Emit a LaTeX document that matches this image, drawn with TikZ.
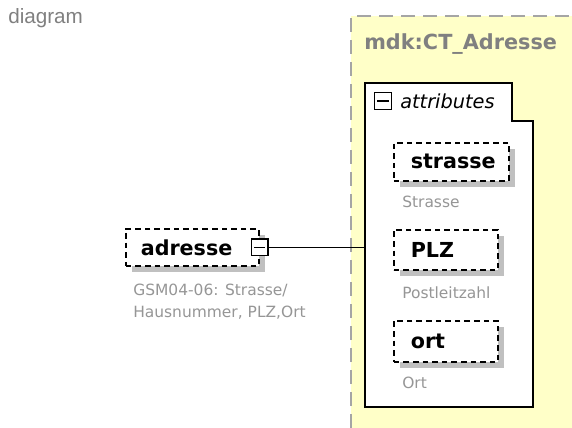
\documentclass[tikz,border=0pt]{standalone}
\usepackage{fontspec}
\setmainfont{DejaVu Sans}
\newfontfamily\arialfont{Liberation Sans}
\usetikzlibrary{shadows}
\definecolor{ylw}{RGB}{255,255,200}
\definecolor{txtgray}{RGB}{128,128,128}
\definecolor{annogray}{RGB}{150,150,150}
\definecolor{shadowgray}{RGB}{192,192,192}
\definecolor{bordergray}{RGB}{165,165,165}
\tikzset{
  elem/.style={draw=black, line width=1.2pt, dash pattern=on 4.2pt off 3pt,
    fill=white, anchor=north west, inner xsep=12.75pt, inner ysep=0pt, align=left,
    font=\bfseries\fontsize{15.5}{18}\selectfont,
    drop shadow={shadow xshift=4.5pt, shadow yshift=-4.5pt, fill=shadowgray, opacity=1}},
  anno/.style={anchor=north west, inner sep=0pt, text=annogray, align=left,
    font=\fontsize{11.6}{15}\selectfont},
  expander/.style={draw=black, line width=1pt, fill=white, minimum size=12.5pt, inner sep=0pt},
  conn/.style={draw=black, line width=1pt}
}
\begin{document}
\begin{tikzpicture}[x=0.75pt,y=-0.75pt]
\useasboundingbox (0,0) rectangle (572,428);
\fill[white] (0,0) rectangle (572,428);
\node[anchor=west, inner sep=0pt, text=txtgray, font=\arialfont\fontsize{15.5}{18}\selectfont] (diaglabel) at (8,18) {diagram};
% complex type region
\fill[ylw] (351,16) rectangle (572,428);
\draw[bordergray, line width=1.5pt, dash pattern=on 10.5pt off 6pt] (351,428) -- (351,16) -- (572,16);
\node[anchor=west, inner sep=0pt, text=txtgray, font=\bfseries\fontsize{15.6}{18}\selectfont] (ctname) at (364,44) {mdk:CT\_Adresse};
% attributes group
\draw[black, line width=1.3pt, fill=white] (365,83) -- (512,83) -- (512,121) -- (533,121) -- (533,407) -- (365,407) -- cycle;
\node[expander] (attrexp) at (383,101) {};
\draw[black, line width=1pt] ([xshift=2.6pt]attrexp.west) -- ([xshift=-2.6pt]attrexp.east);
\node[anchor=west, inner sep=0pt, font=\itshape\fontsize{14.5}{17}\selectfont] (attrlabel) at (400,101) {attributes};
\coordinate (attrleft) at (365,246);
% attributes
\node[elem, text width=115*0.75pt-25.5pt, minimum height=38*0.75pt] (strasse) at (393,142) {strasse};
\node[anno] (strasseanno) at (402,196) {Strasse};
\node[elem, text width=104*0.75pt-25.5pt, minimum height=40*0.75pt] (plz) at (393,229) {PLZ};
\node[anno] (plzanno) at (402,286) {Postleitzahl};
\node[elem, text width=104*0.75pt-25.5pt, minimum height=41*0.75pt] (ort) at (393,320) {ort};
\node[anno] (ortanno) at (402,377) {Ort};
% adresse element
\node[elem, inner xsep=11.25pt, text width=133*0.75pt-22.5pt, minimum height=37*0.75pt] (adresse) at (125,228) {adresse};
\node[anno] (adresseanno) at (133,284) {GSM04-06: Strasse/\\[1pt]Hausnummer, PLZ,Ort};
\node[expander] (adrexp) at (adresse.east) {};
\draw[black, line width=1pt] ([xshift=2.6pt]adrexp.west) -- ([xshift=-2.6pt]adrexp.east);
\draw[conn] (adrexp.east) -- (adrexp.east -| attrleft);
\end{tikzpicture}
\end{document}
